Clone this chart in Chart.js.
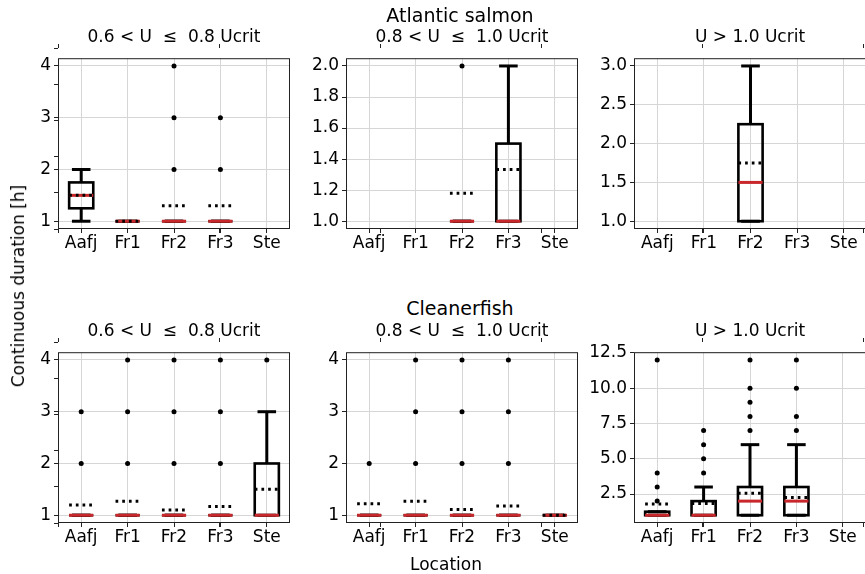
<!DOCTYPE html>
<html lang="en">
<head>
<meta charset="UTF-8">
<title>Continuous duration by location</title>
<script src="https://cdn.jsdelivr.net/npm/chart.js"></script>
<style>
  body { margin: 0; width: 865px; height: 574px; overflow: hidden; position: relative; background: #fff;
         font-family: "DejaVu Sans", sans-serif; color: #000; }
  canvas { position: absolute; }
  .txt { position: absolute; white-space: nowrap; transform: translate(-50%, -50%); font-size: 17px; }
  .big { font-size: 19px; }
  .ylab { transform: translate(-50%, -50%) rotate(-90deg); }
</style>
</head>
<body>
<canvas id="frame1" width="815" height="191" style="left:53px;top:43px"></canvas>
<canvas id="frame2" width="815" height="191" style="left:53px;top:337px"></canvas>

<canvas id="p1" width="298" height="216" style="left:-4px;top:45px"></canvas>
<canvas id="p2" width="298" height="216" style="left:284px;top:45px"></canvas>
<canvas id="p3" width="298" height="216" style="left:572px;top:45px"></canvas>
<canvas id="p4" width="298" height="216" style="left:-4px;top:339px"></canvas>
<canvas id="p5" width="298" height="216" style="left:284px;top:339px"></canvas>
<canvas id="p6" width="298" height="216" style="left:572px;top:339px"></canvas>

<div class="txt big" style="left:460px;top:15px">Atlantic salmon</div>
<div class="txt" style="left:174px;top:36px">0.6 &lt; U &nbsp;≤ &nbsp;0.8 Ucrit</div>
<div class="txt" style="left:462px;top:36px">0.8 &lt; U &nbsp;≤ &nbsp;1.0 Ucrit</div>
<div class="txt" style="left:750px;top:36px">U &gt; 1.0 Ucrit</div>

<div class="txt big" style="left:460px;top:308px">Cleanerfish</div>
<div class="txt" style="left:174px;top:330px">0.6 &lt; U &nbsp;≤ &nbsp;0.8 Ucrit</div>
<div class="txt" style="left:462px;top:330px">0.8 &lt; U &nbsp;≤ &nbsp;1.0 Ucrit</div>
<div class="txt" style="left:750px;top:330px">U &gt; 1.0 Ucrit</div>

<div class="txt" style="left:446px;top:564px">Location</div>
<div class="txt ylab" style="left:18px;top:286px">Continuous duration [h]</div>

<script>
const locations = ['Aafj', 'Fr1', 'Fr2', 'Fr3', 'Ste'];

// each box: [low whisker, q1, median, q3, high whisker, mean], null = no data
const salmonLowBoxes  = [[1, 1.25, 1.5, 1.75, 2, 1.5], [1, 1, 1, 1, 1, 1], [1, 1, 1, 1, 1, 1.3], [1, 1, 1, 1, 1, 1.3], null];
const salmonLowFliers = [[], [], [2, 3, 4], [2, 3], []];
const salmonMidBoxes  = [null, null, [1, 1, 1, 1, 1, 1.18], [1, 1, 1, 1.5, 2, 1.333], null];
const salmonMidFliers = [[], [], [2], [], []];
const salmonHighBoxes  = [null, null, [1, 1, 1.5, 2.25, 3, 1.75], null, null];
const salmonHighFliers = [[], [], [], [], []];

const cleanerLowBoxes  = [[1, 1, 1, 1, 1, 1.2], [1, 1, 1, 1, 1, 1.27], [1, 1, 1, 1, 1, 1.1], [1, 1, 1, 1, 1, 1.17], [1, 1, 1, 2, 3, 1.5]];
const cleanerLowFliers = [[2, 3], [2, 3, 4], [2, 3, 4], [2, 3, 4], [4]];
const cleanerMidBoxes  = [[1, 1, 1, 1, 1, 1.22], [1, 1, 1, 1, 1, 1.27], [1, 1, 1, 1, 1, 1.11], [1, 1, 1, 1, 1, 1.18], [1, 1, 1, 1, 1, 1]];
const cleanerMidFliers = [[2], [2, 3, 4], [2, 3, 4], [2, 3, 4], []];
const cleanerHighBoxes  = [[1, 1, 1, 1.25, 1.25, 1.8], [1, 1, 1, 2, 3, 1.83], [1, 1, 2, 3, 6, 2.55], [1, 1, 2, 3, 6, 2.26], null];
const cleanerHighFliers = [[2, 3, 4, 12], [4, 5, 6, 7], [7, 8, 9, 10, 12], [7, 8, 10, 12], []];

// y tick labels
const countTicks = [1, 2, 3, 4];
const fineTicks = [1.0, 1.2, 1.4, 1.6, 1.8, 2.0];
const halfTicks = [1.0, 1.5, 2.0, 2.5, 3.0];
const longTicks = [2.5, 5.0, 7.5, 10.0, 12.5];

const medianColor = '#c8282b';
const spineColor = '#222';
const gridColor = '#d6d6d6';

Chart.defaults.font.family = '"DejaVu Sans", sans-serif';
Chart.defaults.font.size = 17;
Chart.defaults.color = '#000';

// draws boxes, whiskers, caps, medians and mean lines from the stats
const boxPlugin = {
  id: 'boxes',
  beforeDraw(chart) {
    const a = chart.chartArea;
    chart.ctx.save();
    chart.ctx.fillStyle = '#fff';
    chart.ctx.fillRect(a.left, a.top, a.right - a.left, a.bottom - a.top);
    chart.ctx.restore();
  },
  afterDatasetsDraw(chart, args, opts) {
    const { ctx, scales: { x, y } } = chart;
    const unit = x.getPixelForValue(2) - x.getPixelForValue(1);
    const half = unit * 0.26, cap = unit * 0.2;
    ctx.save();
    ctx.strokeStyle = '#000';
    opts.stats.forEach((s, i) => {
      if (!s) return;
      const [lo, q1, med, q3, hi, mean] = s;
      const cx = x.getPixelForValue(i + 1);
      const line = (x0, y0, x1, y1) => { ctx.beginPath(); ctx.moveTo(x0, y0); ctx.lineTo(x1, y1); ctx.stroke(); };
      ctx.setLineDash([]);
      ctx.lineWidth = 2.6;
      ctx.strokeRect(cx - half, y.getPixelForValue(q3), half * 2, y.getPixelForValue(q1) - y.getPixelForValue(q3));
      ctx.lineWidth = 3;
      line(cx, y.getPixelForValue(q3), cx, y.getPixelForValue(hi));
      line(cx, y.getPixelForValue(q1), cx, y.getPixelForValue(lo));
      line(cx - cap, y.getPixelForValue(hi), cx + cap, y.getPixelForValue(hi));
      line(cx - cap, y.getPixelForValue(lo), cx + cap, y.getPixelForValue(lo));
      ctx.strokeStyle = medianColor;
      line(cx - half, y.getPixelForValue(med), cx + half, y.getPixelForValue(med));
      ctx.strokeStyle = '#000';
      ctx.setLineDash([2.7, 4]);
      line(cx - half, y.getPixelForValue(mean), cx + half, y.getPixelForValue(mean));
    });
    ctx.restore();
  },
  afterDraw(chart) {
    const a = chart.chartArea, ctx = chart.ctx;
    ctx.save();
    ctx.strokeStyle = spineColor;
    ctx.lineWidth = 1;
    ctx.strokeRect(a.left + 0.5, a.top + 0.5, a.right - a.left - 1, a.bottom - a.top - 1);
    ctx.restore();
  }
};

function makePanel(id, boxes, fliers, yMin, yMax, yTicks, decimals) {
  const points = fliers.flatMap((vals, i) => vals.map(v => ({ x: i + 1, y: v })));
  new Chart(document.getElementById(id), {
    type: 'scatter',
    data: {
      datasets: [{ data: points, backgroundColor: '#000', borderWidth: 0, pointRadius: 2.5 }]
    },
    plugins: [boxPlugin],
    options: {
      responsive: false,
      animation: false,
      layout: { padding: { top: 3, right: 3 } },
      plugins: { legend: { display: false }, tooltip: { enabled: false }, boxes: { stats: boxes } },
      scales: {
        x: {
          type: 'linear', min: 0.5, max: 5.5,
          afterBuildTicks: s => { s.ticks = locations.map((_, i) => ({ value: i + 1 })); },
          afterFit: s => { s.height = 32; },
          ticks: { callback: (v, i) => locations[i], padding: 0, maxRotation: 0, autoSkip: false },
          grid: { color: gridColor, tickColor: spineColor, tickLength: 4 },
          border: { display: false }
        },
        y: {
          type: 'linear', min: yMin, max: yMax,
          afterBuildTicks: s => { s.ticks = yTicks.map(v => ({ value: v })); },
          afterFit: s => { s.width = 62; },
          ticks: { callback: v => Number(v).toFixed(decimals), padding: 3 },
          grid: { color: gridColor, tickColor: spineColor, tickLength: 4 },
          border: { display: false }
        }
      }
    }
  });
}

// the row-wide axes behind the panels, only its tick marks show
function makeFrame(id) {
  const fifths = s => { s.ticks = [0, 0.2, 0.4, 0.6, 0.8, 1].map(v => ({ value: v })); };
  const axis = (pos, fit) => ({
    type: 'linear', position: pos, min: 0, max: 1,
    afterBuildTicks: fifths, afterFit: fit,
    ticks: { display: false },
    grid: { drawOnChartArea: false, tickColor: spineColor, tickLength: 4 },
    border: { display: false }
  });
  new Chart(document.getElementById(id), {
    type: 'scatter',
    data: { datasets: [] },
    options: {
      responsive: false,
      animation: false,
      layout: { padding: { right: 5 } },
      plugins: { legend: { display: false }, tooltip: { enabled: false } },
      scales: {
        x: axis('bottom', s => { s.height = 5; }),
        xTop: Object.assign(axis('top', s => { s.height = 5; }), { axis: 'x' }),
        y: axis('left', s => { s.width = 5; })
      }
    }
  });
}

makeFrame('frame1');
makeFrame('frame2');

makePanel('p1', salmonLowBoxes, salmonLowFliers, 0.85, 4.15, countTicks, 0);
makePanel('p2', salmonMidBoxes, salmonMidFliers, 0.95, 2.05, fineTicks, 1);
makePanel('p3', salmonHighBoxes, salmonHighFliers, 0.9, 3.1, halfTicks, 1);
makePanel('p4', cleanerLowBoxes, cleanerLowFliers, 0.85, 4.15, countTicks, 0);
makePanel('p5', cleanerMidBoxes, cleanerMidFliers, 0.85, 4.15, countTicks, 0);
makePanel('p6', cleanerHighBoxes, cleanerHighFliers, 0.45, 12.55, longTicks, 1);
</script>
</body>
</html>
